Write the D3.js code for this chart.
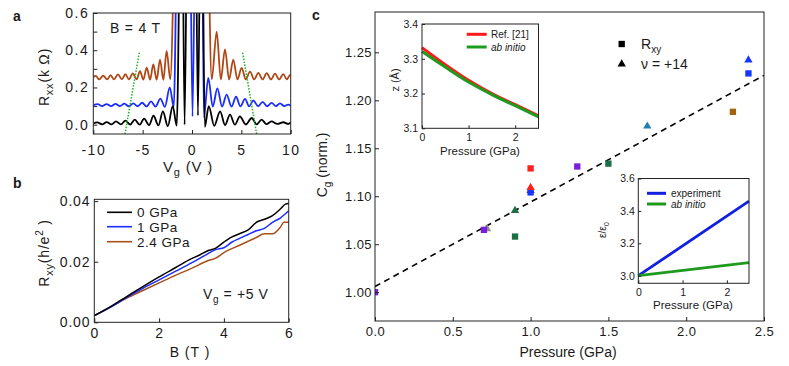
<!DOCTYPE html>
<html>
<head>
<meta charset="utf-8">
<script src="https://cdn.jsdelivr.net/npm/d3@7"></script>
<style>
  body { margin: 0; background: #fff; }
  svg { font-family: "Liberation Sans", Arial, Helvetica, sans-serif; }
  svg text { fill: #1a1a1a; }
  .ax path, .ax line { stroke: #222; }
</style>
</head>
<body>
<svg width="789" height="366"></svg>
<script>
// ---------- data ----------
// panel a : Rxx (kOhm) vs Vg (V), B = 4 T  -- peaks / valleys
const rxxBlack = [[-10,0.006],[-9.6,0.012],[-9.1,0.002],[-8.65,0.014],[-8.15,0.002],[-7.7,0.018],[-7.2,0.002],
  [-6.75,0.022],[-6.25,0.001],[-5.8,0.027],[-5.3,0.0],[-4.85,0.033],[-4.35,-0.002],[-3.9,0.048],[-3.4,-0.004],
  [-2.95,0.072],[-2.45,-0.008],[-1.95,0.1],[-1.55,-0.005],[-1.05,1.6],[-0.75,0.0],[-0.4,1.6],[0.3,1.6],
  [0.6,0.05],[0.95,1.6],[1.3,-0.012],[1.7,0.1],[2.25,-0.006],[2.85,0.072],[3.35,-0.002],[3.85,0.054],
  [4.35,0.0],[4.85,0.045],[5.45,0.001],[6.05,0.036],[6.55,0.002],[7.05,0.027],[7.55,0.003],[8.05,0.018],
  [8.65,0.004],[9.25,0.013],[9.75,0.004],[10,0.012]];
const rxxBlue = [[-10,0.105],[-9.55,0.11],[-9.1,0.1],[-8.65,0.111],[-8.2,0.1],[-7.75,0.112],[-7.3,0.1],
  [-6.85,0.113],[-6.4,0.099],[-5.95,0.115],[-5.5,0.099],[-5.05,0.118],[-4.6,0.098],[-4.15,0.125],[-3.7,0.097],
  [-3.2,0.14],[-2.75,0.096],[-2.25,0.2],[-1.85,0.095],[-1.35,1.6],[-0.3,1.6],[0.05,0.045],[0.45,1.6],
  [0.95,1.6],[1.2,0.04],[1.65,0.252],[2.1,0.097],[2.57,0.195],[3.05,0.097],[3.51,0.162],
  [4.0,0.097],[4.46,0.15],[4.9,0.098],[5.37,0.139],[5.8,0.098],[6.21,0.13],[6.7,0.099],[7.16,0.123],[7.6,0.099],
  [8.07,0.117],[8.5,0.1],[8.92,0.114],[9.35,0.1],[9.76,0.108],[10,0.102]];
const rxxBrown = [[-10,0.255],[-9.75,0.262],[-9.4,0.243],[-9.0,0.264],[-8.6,0.243],[-8.25,0.266],[-7.9,0.243],
  [-7.5,0.27],[-7.1,0.243],[-6.75,0.272],[-6.4,0.243],[-6.0,0.276],[-5.62,0.243],[-5.27,0.288],[-4.93,0.242],
  [-4.59,0.306],[-4.25,0.242],[-3.92,0.324],[-3.58,0.242],[-3.24,0.35],[-2.9,0.241],[-2.57,0.396],[-2.2,0.243],
  [-1.55,1.4],[0.0,1.6],[1.45,1.4],[2.0,0.243],[2.5,0.5],[2.92,0.243],
  [3.34,0.405],[3.76,0.243],[4.18,0.35],[4.6,0.243],[5.03,0.305],[5.45,0.243],[5.88,0.285],[6.3,0.243],
  [6.72,0.278],[7.15,0.243],[7.57,0.277],[8.0,0.243],[8.41,0.274],[8.83,0.243],[9.25,0.272],[9.6,0.243],
  [9.95,0.268],[10,0.262]];
// green dotted guide lines
const guideLeft = [[-6.79,-0.05],[-5.34,0.387]];
const guideRight = [[5.13,0.387],[6.55,-0.05]];
const vgTicks = [-10, -5, 0, 5, 10];
const rxxTicks = [0, 0.1, 0.2, 0.3, 0.4, 0.5, 0.6];

// panel b : Rxy (h/e^2) vs B (T), Vg = +5 V
const rxy0 = [[0,0.0022],[0.5,0.0052],[1,0.0085],[1.5,0.0118],[2,0.015],[2.5,0.018],[3,0.021],[3.25,0.0222],
  [3.5,0.0236],[3.75,0.0245],[4,0.0265],[4.25,0.0282],[4.5,0.0293],[4.75,0.0305],[5,0.033],[5.25,0.034],
  [5.5,0.0352],[5.75,0.0375],[5.9,0.039],[6,0.0392]];
const rxy1 = [[0,0.0022],[0.5,0.005],[1,0.0082],[1.5,0.0112],[2,0.014],[2.5,0.0168],[3,0.0196],[3.5,0.0226],
  [3.75,0.024],[4,0.0246],[4.25,0.0265],[4.5,0.0278],[4.75,0.029],[5,0.0302],[5.25,0.031],[5.5,0.033],
  [5.75,0.0345],[6,0.0368]];
const rxy24 = [[0,0.0022],[0.5,0.005],[1,0.008],[1.5,0.0105],[2,0.013],[2.5,0.0155],[3,0.0178],[3.5,0.0203],
  [3.75,0.0212],[4,0.023],[4.5,0.0255],[5,0.028],[5.25,0.0292],[5.5,0.0292],[5.75,0.0315],[5.85,0.033],[6,0.033]];
const pressLabels = ["0 GPa", "1 GPa", "2.4 GPa"];
const bTicks = [0, 2, 4, 6];
const rxyTicks = [0, 0.02, 0.04];

// panel c : normalised Cg vs pressure (draw order matters)
const markP     = [0, 0.72, 0.7, 0.9, 0.9, 1.0, 1.0, 1.0, 1.0, 1.3, 1.5, 1.75, 2.3, 2.4, 2.4];
const markC     = [1.0, 1.066, 1.065, 1.085, 1.058, 1.129, 1.104, 1.106, 1.109, 1.131, 1.134, 1.173, 1.188, 1.228, 1.242];
const markShape = ["sq","tri","sq","tri","sq","sq","sq","tri","tri","sq","sq","tri","sq","sq","tri"];
const markColor = ["#7a1fd8","#8c8c8c","#7a1fd8","#1b6e45","#1b6e45","#ff1f1f","#1536ff","#1536ff","#ff1f1f",
                   "#7a1fd8","#1b6e45","#1f7fb3","#a3620e","#1536ff","#1536ff"];
const fitP = [0, 2.5];
const fitC = [1.006, 1.226];
const pTicks = [0, 0.5, 1, 1.5, 2, 2.5];
const cgTicks = [1.0, 1.05, 1.1, 1.15, 1.2, 1.25];

// inset 1 : interlayer distance z (Å)
const zP = [0, 0.5, 1, 1.5, 2, 2.5];
const zRef = [3.332, 3.283, 3.238, 3.2, 3.168, 3.136];
const zAb  = [3.321, 3.276, 3.233, 3.197, 3.165, 3.133];
// inset 2 : dielectric constant
const epsP = [0, 2.5];
const epsExp = [3.0, 3.46];
const epsAb  = [3.0, 3.08];

// ---------- helpers ----------
const svg = d3.select("svg");

function frame(x, y) {
  const [x0, x1] = x.range(), [y0, y1] = y.range();
  svg.append("rect")
    .attr("x", x0).attr("y", y1).attr("width", x1 - x0).attr("height", y0 - y1)
    .attr("fill", "none").attr("stroke", "#222").attr("stroke-width", 1);
}

function axes(x, y, o) {
  const gx = svg.append("g").attr("class", "ax")
    .attr("transform", `translate(0,${y.range()[0]})`)
    .call(d3.axisBottom(x).tickValues(o.xt).tickSizeInner(-o.tick).tickSizeOuter(0)
      .tickPadding(o.xpad).tickFormat(o.xf));
  const gy = svg.append("g").attr("class", "ax")
    .attr("transform", `translate(${x.range()[0]},0)`)
    .call(d3.axisLeft(y).tickValues(o.yt).tickSizeInner(-o.tick).tickSizeOuter(0)
      .tickPadding(o.ypad).tickFormat(o.yf));
  [gx, gy].forEach(g => {
    g.select(".domain").remove();
    g.selectAll("text").style("font-size", o.fs + "px").style("letter-spacing", o.ls + "px");
  });
}

function label(x, y, rot, fs, parts, extra) {
  const t = svg.append("text")
    .attr("transform", `translate(${x},${y}) rotate(${rot})`)
    .attr("text-anchor", extra && extra.anchor || "middle")
    .style("font-size", fs + "px")
    .style("letter-spacing", (extra && extra.ls || 0) + "px");
  parts.forEach(p => {
    const s = t.append("tspan").text(p.t);
    if (p.dy) s.attr("dy", p.dy);
    if (p.fs) s.style("font-size", p.fs + "px");
    if (p.it) s.style("font-style", "italic");
  });
  return t;
}

// ---------- panel a ----------
const xa = d3.scaleLinear().domain([-10, 10]).range([93.3, 290.7]);
const ya = d3.scaleLinear().domain([-0.05, 0.6]).range([134, 13]);
svg.append("clipPath").attr("id", "clipA").append("rect")
  .attr("x", 93.3).attr("y", 13).attr("width", 197.4).attr("height", 121);
const lineA = d3.line().x(d => xa(d[0])).y(d => ya(d[1])).curve(d3.curveMonotoneX);
const gA = svg.append("g").attr("clip-path", "url(#clipA)");
[[rxxBrown, "#b04612"], [rxxBlue, "#1a2cff"], [rxxBlack, "#000"]].forEach(([d, c]) => {
  gA.append("path").datum(d).attr("d", lineA)
    .attr("fill", "none").attr("stroke", c).attr("stroke-width", 1.8);
});
[guideLeft, guideRight].forEach(d => {
  gA.append("path").datum(d).attr("d", d3.line().x(p => xa(p[0])).y(p => ya(p[1])))
    .attr("stroke", "#1fb21f").attr("stroke-width", 1.5).attr("stroke-dasharray", "1.5,1.5");
});
frame(xa, ya);
axes(xa, ya, { xt: vgTicks, yt: rxxTicks, tick: 4, xpad: 11, ypad: 4, fs: 14, ls: 1.5,
  xf: d => d3.format("d")(d).replace("−", "-"),
  yf: d => (Math.round(d * 10) % 2 === 0 ? d3.format(".1f")(d) : "") });
label(110, 33, 0, 14, [{ t: "B = 4 T" }], { anchor: "start", ls: 0.8 });
label(188, 172, 0, 15, [{ t: "V" }, { t: "g", fs: 11, dy: 4 }, { t: " (V )", dy: -4 }], { ls: 0.8 });
label(49, 77, -90, 14, [{ t: "R" }, { t: "xx", fs: 11, dy: 4 }, { t: "(k Ω)", dy: -4 }], { ls: 0.8 });

// ---------- panel b ----------
const xb = d3.scaleLinear().domain([0, 6]).range([94.3, 288.7]);
const yb = d3.scaleLinear().domain([0, 0.0406]).range([322.3, 199.3]);
const lineB = d3.line().x(d => xb(d[0])).y(d => yb(d[1])).curve(d3.curveMonotoneX);
const bColors = ["#000", "#1a2cff", "#a8501c"];
[rxy24, rxy1, rxy0].forEach((d, i) => {
  svg.append("path").datum(d).attr("d", lineB)
    .attr("fill", "none").attr("stroke", bColors[2 - i]).attr("stroke-width", 1.5);
});
frame(xb, yb);
axes(xb, yb, { xt: bTicks, yt: rxyTicks, tick: 4, xpad: 6, ypad: 4, fs: 14, ls: 0.8,
  xf: d3.format("d"), yf: d3.format(".2f") });
pressLabels.forEach((t, i) => {
  const yy = [212.3, 226.7, 241.7][i];
  svg.append("line").attr("x1", 107).attr("x2", 132).attr("y1", yy).attr("y2", yy)
    .attr("stroke", bColors[i]).attr("stroke-width", 1.6);
  label(137, yy + 5, 0, 13.5, [{ t: t }], { anchor: "start", ls: 0.5 });
});
label(203, 299, 0, 14, [{ t: "V" }, { t: "g", fs: 10, dy: 4 }, { t: " = +5 V", dy: -4 }], { anchor: "start", ls: 0.6 });
label(190, 357, 0, 14, [{ t: "B (T )" }], { ls: 1 });
label(49, 253, -90, 14, [{ t: "R" }, { t: "xy", fs: 11, dy: 4 }, { t: "(h/e", dy: -4 }, { t: "2", fs: 10, dy: -6 }, { t: " )", dy: 6 }], { ls: 0.8 });

// ---------- panel c ----------
const xc = d3.scaleLinear().domain([0, 2.5]).range([375, 764]);
const yc = d3.scaleLinear().domain([0.97, 1.292]).range([321, 12]);
svg.append("clipPath").attr("id", "clipC").append("rect")
  .attr("x", 375).attr("y", 12).attr("width", 389).attr("height", 309);
const gC = svg.append("g").attr("clip-path", "url(#clipC)");
gC.append("path").datum(d3.zip(fitP, fitC))
  .attr("d", d3.line().x(d => xc(d[0])).y(d => yc(d[1])))
  .attr("stroke", "#000").attr("stroke-width", 1.6).attr("stroke-dasharray", "6,4.5");
const sym = { sq: d3.symbol(d3.symbolSquare, 40), tri: d3.symbol(d3.symbolTriangle, 30) };
markP.forEach((p, i) => {
  gC.append("path").attr("d", sym[markShape[i]]())
    .attr("transform", `translate(${xc(p)},${yc(markC[i])})`)
    .attr("fill", markColor[i]);
});
frame(xc, yc);
axes(xc, yc, { xt: pTicks, yt: cgTicks, tick: 4, xpad: 6, ypad: 3, fs: 13, ls: 0.4,
  xf: d3.format(".1f"), yf: d3.format(".2f") });
label(568, 357, 0, 14, [{ t: "Pressure (GPa)" }]);
label(327, 165, -90, 14, [{ t: "C" }, { t: "g", fs: 10, dy: 4 }, { t: " (norm.)", dy: -4 }]);
// legend
svg.append("path").attr("d", sym.sq()).attr("transform", "translate(621.7,44)").attr("fill", "#000");
svg.append("path").attr("d", sym.tri()).attr("transform", "translate(621.7,64)").attr("fill", "#000");
label(641, 49, 0, 14, [{ t: "R" }, { t: "xy", fs: 10, dy: 4 }], { anchor: "start" });
label(641, 69, 0, 14, [{ t: "ν = +14" }], { anchor: "start" });

// ---------- inset 1 ----------
const xi = d3.scaleLinear().domain([0, 2.5]).range([422, 538.5]);
const yi = d3.scaleLinear().domain([3.1, 3.4]).range([128.3, 24]);
svg.append("rect").attr("x", 422).attr("y", 24).attr("width", 116.5).attr("height", 104.3).attr("fill", "#fff");
const lineI = d3.line().x(d => xi(d[0])).y(d => yi(d[1])).curve(d3.curveMonotoneX);
svg.append("path").datum(d3.zip(zP, zRef)).attr("d", lineI)
  .attr("fill", "none").attr("stroke", "#ff1a1a").attr("stroke-width", 3);
svg.append("path").datum(d3.zip(zP, zAb)).attr("d", lineI)
  .attr("fill", "none").attr("stroke", "#1e9a1e").attr("stroke-width", 3);
frame(xi, yi);
axes(xi, yi, { xt: [0, 1, 2], yt: [3.1, 3.2, 3.3, 3.4], tick: 3, xpad: 5, ypad: 4, fs: 10.5, ls: 0,
  xf: d3.format("d"), yf: d3.format(".1f") });
[["Ref. [21]", "#ff1a1a", 34.3, false], ["ab initio", "#1e9a1e", 47, true]].forEach(([t, c, yy, it]) => {
  svg.append("line").attr("x1", 466.7).attr("x2", 486.7).attr("y1", yy).attr("y2", yy)
    .attr("stroke", c).attr("stroke-width", 3);
  label(491, yy + 3.5, 0, 10, [{ t: t, it: it }], { anchor: "start" });
});
label(480, 155, 0, 11.5, [{ t: "Pressure (GPa)" }]);
label(399, 80, -90, 11, [{ t: "z (Å)" }]);

// ---------- inset 2 ----------
const xe = d3.scaleLinear().domain([0, 2.5]).range([638.3, 749]);
const ye = d3.scaleLinear().domain([2.953, 3.6]).range([283.3, 178.5]);
svg.append("rect").attr("x", 638.3).attr("y", 178.5).attr("width", 110.7).attr("height", 104.8).attr("fill", "#fff");
const lineE = d3.line().x(d => xe(d[0])).y(d => ye(d[1]));
svg.append("path").datum(d3.zip(epsP, epsExp)).attr("d", lineE)
  .attr("fill", "none").attr("stroke", "#1020e0").attr("stroke-width", 2.8);
svg.append("path").datum(d3.zip(epsP, epsAb)).attr("d", lineE)
  .attr("fill", "none").attr("stroke", "#1e9a1e").attr("stroke-width", 2.8);
frame(xe, ye);
axes(xe, ye, { xt: [0, 1, 2], yt: [3.0, 3.2, 3.4, 3.6], tick: 3, xpad: 5, ypad: 3.5, fs: 10.5, ls: 0,
  xf: d3.format("d"), yf: d3.format(".1f") });
[["experiment", "#1020e0", 193.3, false], ["ab initio", "#1e9a1e", 204, true]].forEach(([t, c, yy, it]) => {
  svg.append("line").attr("x1", 647).attr("x2", 666).attr("y1", yy).attr("y2", yy)
    .attr("stroke", c).attr("stroke-width", 3);
  label(671, yy + 3.5, 0, 10, [{ t: t, it: it }], { anchor: "start" });
});
label(693, 309, 0, 11.5, [{ t: "Pressure (GPa)" }]);
label(606, 230, -90, 10, [{ t: "ε/ε" }, { t: "0", fs: 7.5, dy: 3 }]);

// panel letters
[["a", 13, 21], ["b", 13, 188], ["c", 312, 20]].forEach(([t, x, y]) => {
  svg.append("text").attr("x", x).attr("y", y).text(t)
    .style("font-size", "14px").style("font-weight", "bold");
});
</script>
</body>
</html>
